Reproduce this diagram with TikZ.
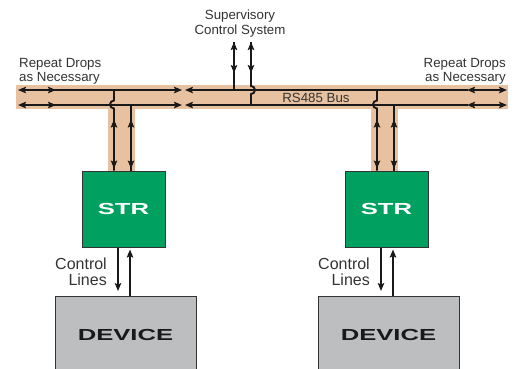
\documentclass[tikz,border=0pt]{standalone}
\usepackage{fontspec}
\setmainfont{Liberation Sans}
\newfontfamily\widefont[FakeStretch=1.6]{Liberation Sans}
\usetikzlibrary{arrows.meta}
\definecolor{busTan}{HTML}{E8C2A0}
\definecolor{strGreen}{HTML}{00A160}
\definecolor{devGray}{HTML}{BCBEC0}
\definecolor{inkGray}{HTML}{333333}
\tikzset{
    >={Stealth[length=8pt, width=6.5pt, inset=1.5pt]},
    wire/.style={line width=1.9pt, draw=black!90},
    thinwire/.style={line width=1.2pt, draw=black!90},
    lbl/.style={font=\fontsize{13.3}{14.5}\selectfont, text=inkGray, inner sep=0pt},
    biglbl/.style={lbl, font=\fontsize{16}{15.5}\selectfont},
    strbox/.style={draw=black!80, line width=1pt, fill=strGreen, text=white,
                   minimum width=83, minimum height=76,
                   font=\widefont\bfseries\fontsize{16}{16}\selectfont},
    devbox/.style={strbox, fill=devGray, text=black!90, minimum width=141,
                   minimum height=76},
}

\begin{document}
\begin{tikzpicture}[x=1pt, y=-1pt]
    \path[use as bounding box] (0,0) rectangle (519,368);

    % bus band and labels
    \fill[busTan] (16,85) rectangle (508,109);
    \coordinate (busU) at (0,90);
    \coordinate (busL) at (0,105);

    \node[lbl, align=left, anchor=north west] (repeatL) at (19,58) {Repeat Drops\\as Necessary};
    \node[lbl, align=right, anchor=north east] (repeatR) at (506,58) {Repeat Drops\\as Necessary};
    \node[lbl, align=center, anchor=north] (sup) at (240,10) {Supervisory\\Control System};
    \node[lbl] (bus) at (316,97.5) {RS485 Bus};

    \foreach \i/\c in {1/123.5,2/386.5} {
        \fill[busTan] (\c-15.5,100) rectangle (\c+11.5,172);
        \node[strbox] (str\i) at (\c,209) {STR};
        \node[devbox, anchor=north] (dev\i) at (\c+2,296) {DEVICE};
        \node[biglbl, align=right, anchor=north east] (ctl\i) at (\c-16.5,258) {Control\\Lines};

        % drop to the bus
        \draw[wire] ([xshift=-9.5pt]str\i.north) -- ++(0,-62)
            arc[start angle=90, end angle=270, radius=4] -- ([xshift=-9.5pt]str\i.north |- busU);
        \draw[wire] ([xshift=7.5pt]str\i.north) -- ([xshift=7.5pt]str\i.north |- busL);
        \draw[wire, <->] ([xshift=-9.5pt, yshift=51pt]str\i.north) -- ([xshift=-9.5pt, yshift=2pt]str\i.north);
        \draw[wire, <->] ([xshift=7.5pt, yshift=51pt]str\i.north) -- ([xshift=7.5pt, yshift=2pt]str\i.north);

        % control lines
        \draw[wire, ->, shorten >=5pt] ([xshift=-5.5pt]str\i.south) -- ([xshift=-5.5pt]str\i.south |- dev\i.north);
        \draw[wire, ->, shorten >=2pt] ([xshift=6.5pt]str\i.south |- dev\i.north) -- ([xshift=6.5pt]str\i.south);
    }

    % bus lines
    \foreach \y in {90,105} {
        \draw[wire, <->] (18,\y) -- (56,\y);
        \draw[wire, ->] (50,\y) -- (182,\y);
        \draw[thinwire, <-] (185,\y) -- (468,\y);
        \draw[wire, <->] (467,\y) -- (507,\y);
    }

    % supervisory link
    \coordinate (supA) at (234,42);
    \coordinate (supB) at (251,42);
    \draw[wire] (supA) -- (supA |- busU);
    \draw[wire] (supB) -- (251,86) arc[start angle=-90, end angle=90, radius=4] -- (supB |- busL);
    \draw[wire, <->] (supA) -- ++(0,31);
    \draw[wire, <->] (supB) -- ++(0,31);
\end{tikzpicture}
\end{document}
